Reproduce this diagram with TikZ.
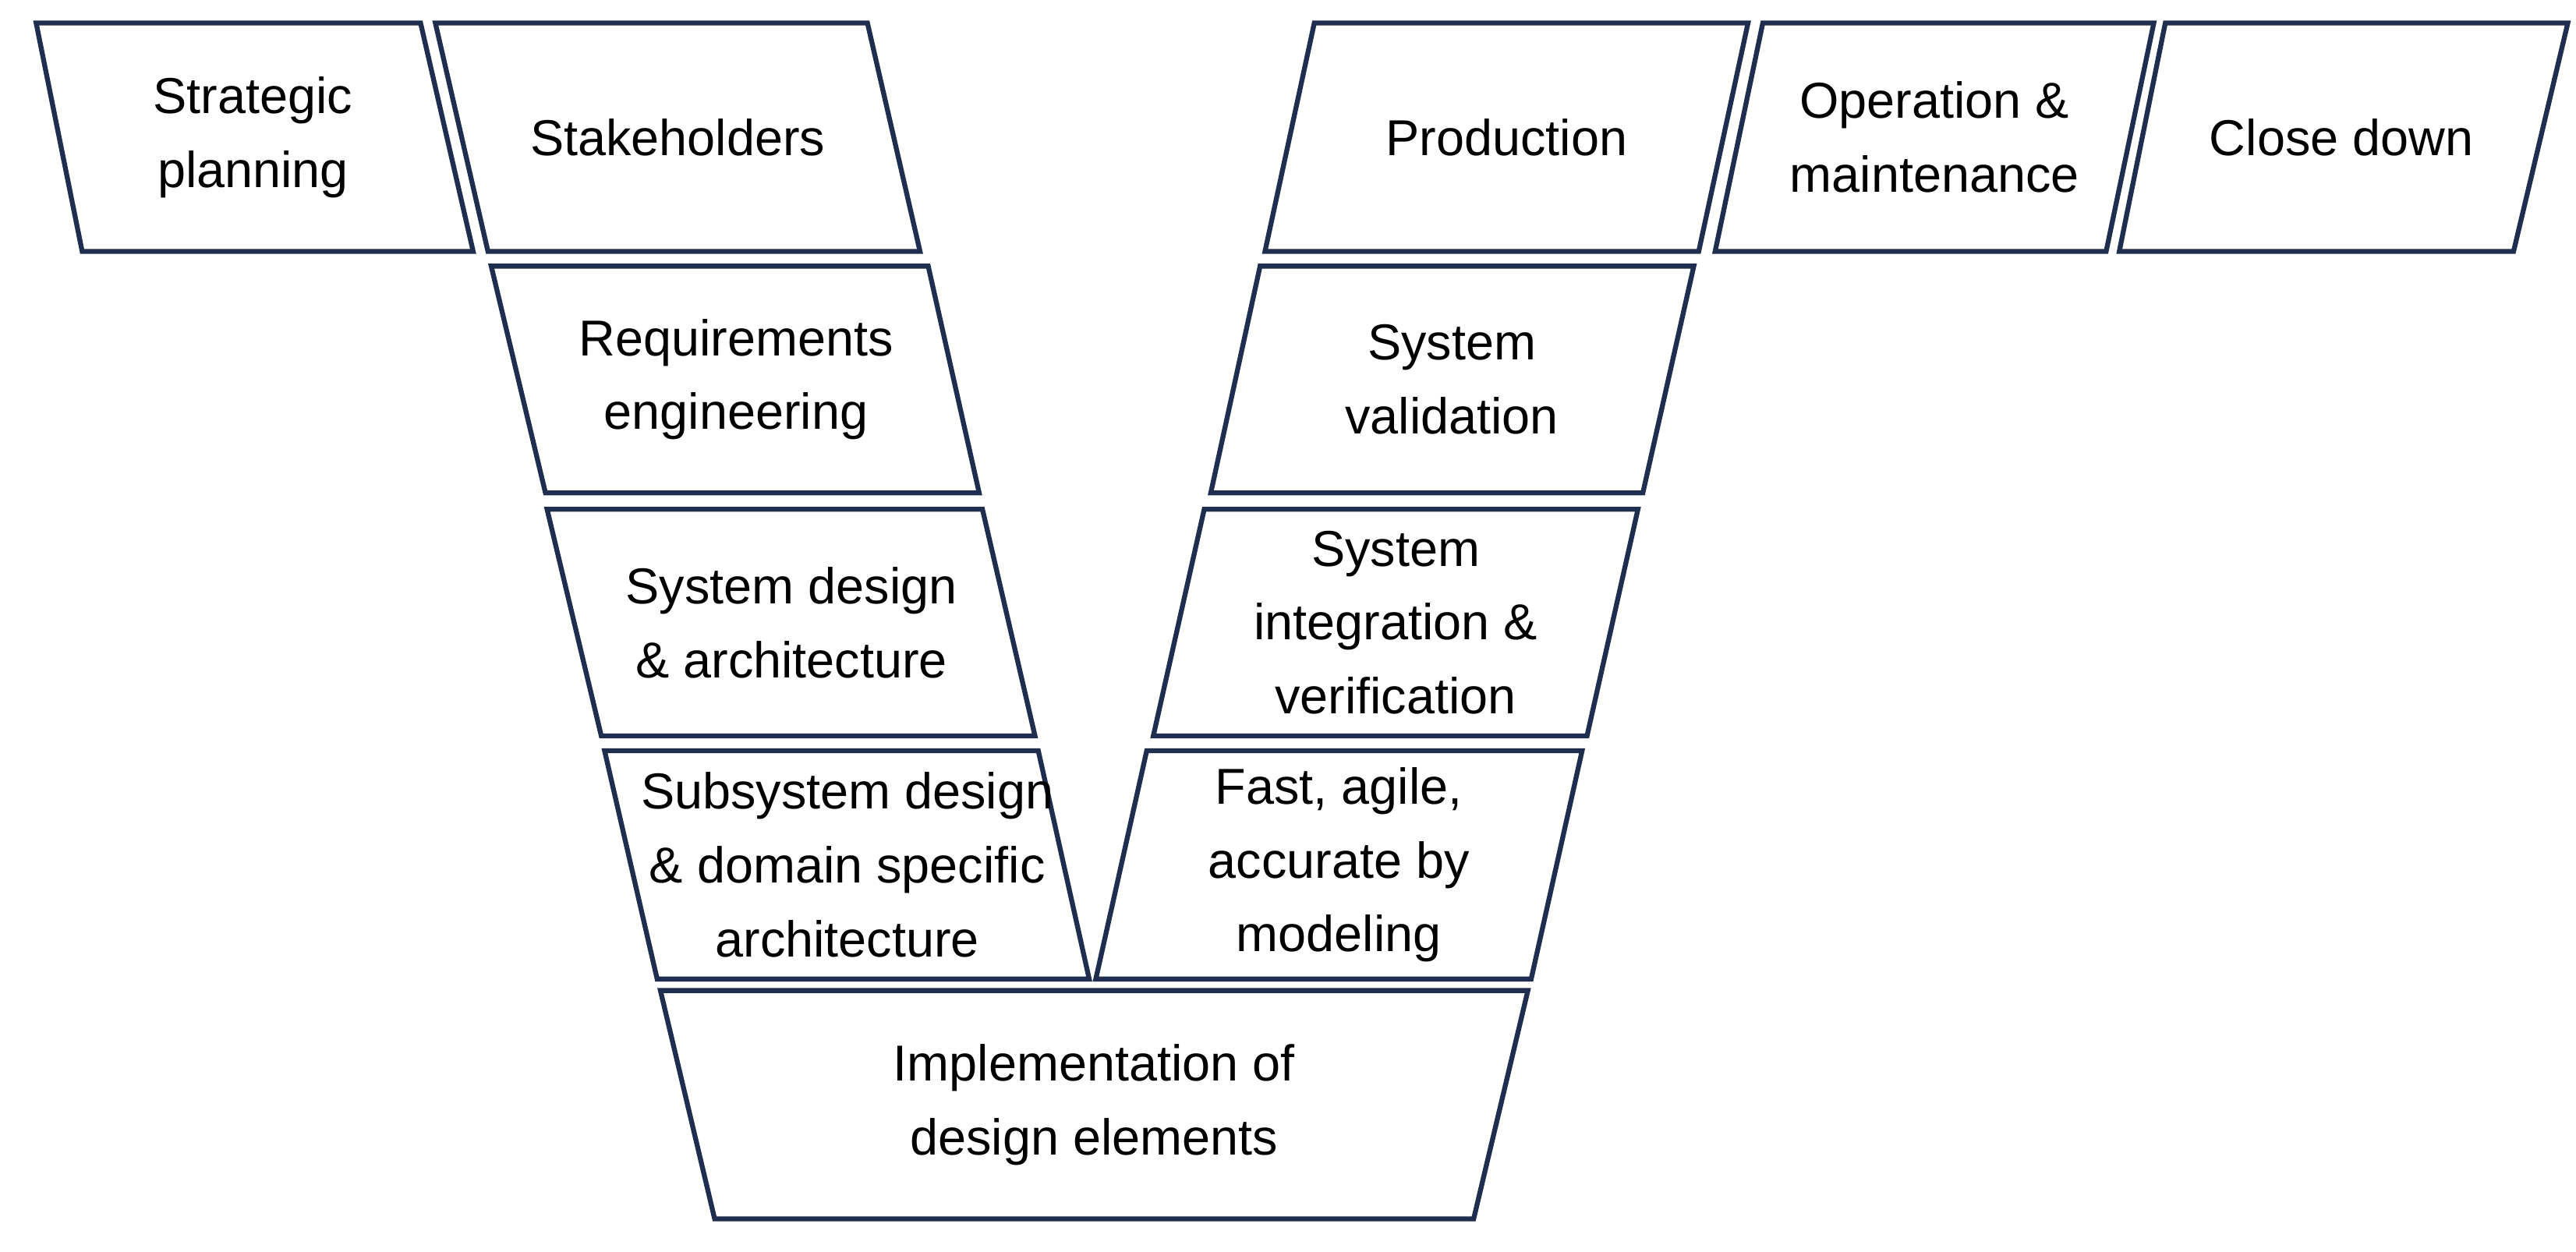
\documentclass[tikz,border=0pt]{standalone}
\usepackage{fontspec}
\setmainfont{Liberation Sans}
\definecolor{navy}{HTML}{1F2D4F}
\tikzset{box/.style={draw=navy,line width=1.7pt,line join=miter},
lbl/.style={align=center,font=\fontsize{17.5}{25.6}\selectfont,inner sep=0pt}}
\newcommand{\trap}[8]{%
 \draw[box] (#2,#6)--(#3,#6)--(#5,#7)--(#4,#7)--cycle;
 \node[lbl] (#1) at ({(#2+#3+#4+#5)/4},{(#6+#7)/2}) {#8};}
\begin{document}
\begin{tikzpicture}[x=0.02cm,y=-0.02cm]
\useasboundingbox (0,0) rectangle (1568,762);
\trap{sp}{22}{256}{50}{288}{14}{153}{Strategic\\planning}
\trap{sh}{265}{528}{297}{560}{14}{153}{Stakeholders}
\trap{re}{299}{565}{332}{596}{162}{300}{Requirements\\engineering}
\trap{sd}{333}{598}{366}{630}{310}{448}{System design\\\& architecture}
\trap{ss}{368}{632}{400}{663}{457}{596}{Subsystem design\\\& domain specific\\architecture}
\trap{im}{402}{930}{435}{897}{603}{742}{Implementation of\\design elements}
\trap{fa}{698}{963}{667}{932}{457}{596}{Fast, agile,\\accurate by\\modeling}
\trap{si}{733}{997}{702}{966}{310}{448}{System\\integration \&\\verification}
\trap{sv}{767}{1031}{737}{1000}{162}{300}{System\\validation}
\trap{pr}{800}{1064}{770}{1034}{14}{153}{Production}
\trap{om}{1073}{1311}{1044}{1282}{14}{153}{Operation \&\\maintenance}
\trap{cd}{1318}{1563}{1290}{1530}{14}{153}{Close down}
\end{tikzpicture}
\end{document}
